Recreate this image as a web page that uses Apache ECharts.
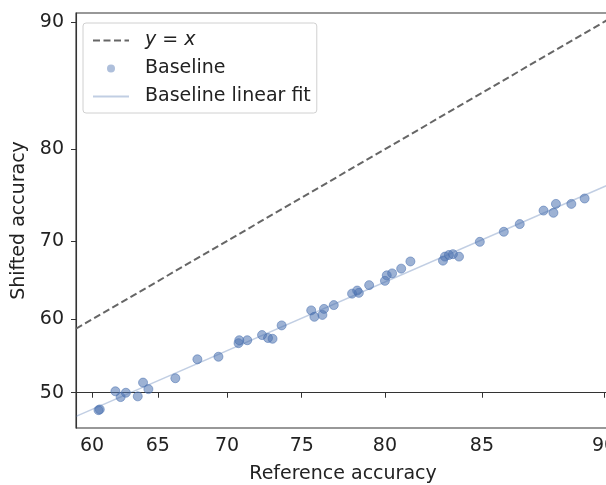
<!DOCTYPE html>
<html>
<head>
<meta charset="utf-8">
<script src="https://cdn.jsdelivr.net/npm/echarts@6/dist/echarts.min.js"></script>
<style>
  html, body { margin: 0; padding: 0; background: #fff; }
  #chart { width: 606px; height: 485px; }
</style>
</head>
<body>
<div id="chart"></div>
<script>
// accuracies in percent
let refAcc = [60.6, 60.5, 61.8, 62.2, 62.6, 63.5, 63.9, 64.3, 66.3, 67.9, 69.4, 70.8, 70.85, 71.4,
    72.4, 72.8, 73.1, 73.7, 75.6, 75.8, 76.3, 76.4, 77.0, 78.1, 78.4, 78.5, 79.1, 80.0, 80.1,
    80.4, 80.9, 81.4, 83.1, 83.2, 83.4, 83.6, 83.9, 84.9, 86.0, 86.7, 87.7, 88.2, 88.1, 88.8, 89.3];
let shiftAcc = [47.7, 47.6, 50.2, 49.4, 50.0, 49.5, 51.4, 50.5, 52.0, 54.6, 54.95, 56.8, 57.2, 57.2,
    57.9, 57.5, 57.4, 59.2, 61.2, 60.35, 60.6, 61.4, 61.9, 63.4, 63.8, 63.5, 64.5, 65.05, 65.75,
    66.0, 66.6, 67.5, 67.6, 68.1, 68.3, 68.4, 68.1, 69.9, 71.1, 72.0, 73.55, 74.3, 73.3, 74.3, 74.9];
let xTicks = [60, 65, 70, 75, 80, 85, 90];
let yTicks = [50, 60, 70, 80, 90];
let xLimits = [58.75, 90.21];
let yLimits = [45.15, 90.53];

// inverse normal cdf (Acklam), axes are probit scaled
function probit(p) {
    const a = [-3.969683028665376e+01, 2.209460984245205e+02, -2.759285104469687e+02, 1.383577518672690e+02, -3.066479806614716e+01, 2.506628277459239e+00];
    const b = [-5.447609879822406e+01, 1.615858368580409e+02, -1.556989798598866e+02, 6.680131188771972e+01, -1.328068155288572e+01];
    const c = [-7.784894002430293e-03, -3.223964580411365e-01, -2.400758277161838e+00, -2.549732539343734e+00, 4.374664141464968e+00, 2.938163982698783e+00];
    const d = [7.784695709041462e-03, 3.224671290700398e-01, 2.445134137142996e+00, 3.754408661907416e+00];
    const plow = 0.02425;
    if (p < plow) {
        let q = Math.sqrt(-2 * Math.log(p));
        return (((((c[0] * q + c[1]) * q + c[2]) * q + c[3]) * q + c[4]) * q + c[5]) / ((((d[0] * q + d[1]) * q + d[2]) * q + d[3]) * q + 1);
    }
    if (p <= 1 - plow) {
        let q = p - 0.5, r = q * q;
        return (((((a[0] * r + a[1]) * r + a[2]) * r + a[3]) * r + a[4]) * r + a[5]) * q / (((((b[0] * r + b[1]) * r + b[2]) * r + b[3]) * r + b[4]) * r + 1);
    }
    let q = Math.sqrt(-2 * Math.log(1 - p));
    return -(((((c[0] * q + c[1]) * q + c[2]) * q + c[3]) * q + c[4]) * q + c[5]) / ((((d[0] * q + d[1]) * q + d[2]) * q + d[3]) * q + 1);
}
let pr = v => probit(v / 100);

let points = refAcc.map((x, i) => [pr(x), pr(shiftAcc[i])]);

// least squares fit in probit space
let n = points.length;
let mx = points.reduce((s, p) => s + p[0], 0) / n;
let my = points.reduce((s, p) => s + p[1], 0) / n;
let sxy = 0, sxx = 0;
points.forEach(p => { sxy += (p[0] - mx) * (p[1] - my); sxx += (p[0] - mx) * (p[0] - mx); });
let slope = sxy / sxx;
let icpt = my - slope * mx;

let x0 = pr(xLimits[0]), x1 = pr(xLimits[1]);
let fitLine = [[x0, icpt + slope * x0], [x1, icpt + slope * x1]];
let diagLine = [[x0, x0], [x1, x1]];

function tickLabel(ticks) {
    return function (v) {
        for (let t of ticks) {
            if (Math.abs(pr(t) - v) < 1e-6) return String(t);
        }
        return '';
    };
}

let font = 'DejaVu Sans';
let axisCol = '#333';
let fs = 19;

let myChart = echarts.init(document.getElementById('chart'));
let option = {
    animation: false,
    textStyle: { fontFamily: font },
    grid: {
        left: 76, top: 13, width: 534, height: 415,
        outerBoundsMode: 'none',
        containLabel: false,
        show: true, borderColor: axisCol, borderWidth: 1.1, backgroundColor: 'transparent'
    },
    legend: {
        left: 83, top: 23,
        orient: 'vertical',
        padding: [8, 6, 7, 9],
        itemWidth: 36, itemHeight: 8, itemGap: 9,
        backgroundColor: 'rgba(255,255,255,0.8)',
        borderColor: '#d0d0d0', borderWidth: 1, borderRadius: 3,
        textStyle: {
            fontFamily: font, fontSize: fs, color: '#222', padding: [0, 0, 0, 11],
            rich: { i: { fontStyle: 'italic', fontFamily: font, fontSize: fs, color: '#222' } }
        },
        formatter: function (name) {
            if (name === 'y = x') return '{i|y} = {i|x}';
            return name;
        },
        data: [
            { name: 'y = x', itemStyle: { opacity: 0 } },
            { name: 'Baseline', itemStyle: { opacity: 0.45, borderWidth: 0 } },
            { name: 'Baseline linear fit', itemStyle: { opacity: 0 } }
        ]
    },
    xAxis: {
        type: 'value',
        min: x0, max: x1,
        name: 'Reference accuracy',
        nameLocation: 'middle', nameGap: 37,
        nameTextStyle: { fontFamily: font, fontSize: fs, color: '#222' },
        axisLine: { show: true, lineStyle: { color: axisCol, width: 1.1 } },
        axisTick: { show: true, length: 5, customValues: xTicks.map(pr), lineStyle: { color: axisCol } },
        axisLabel: { customValues: xTicks.map(pr), formatter: tickLabel(xTicks), margin: 9, fontSize: fs, color: '#222', fontFamily: font },
        splitLine: { show: false }
    },
    yAxis: {
        type: 'value',
        min: pr(yLimits[0]), max: pr(yLimits[1]),
        name: 'Shifted accuracy',
        nameLocation: 'middle', nameGap: 47,
        nameTextStyle: { fontFamily: font, fontSize: fs, color: '#222' },
        axisLine: { show: true, lineStyle: { color: axisCol, width: 1.1 } },
        axisTick: { show: true, length: 5, customValues: yTicks.map(pr), lineStyle: { color: axisCol } },
        axisLabel: { customValues: yTicks.map(pr), formatter: tickLabel(yTicks), margin: 12, fontSize: fs, color: '#222', fontFamily: font },
        splitLine: { show: false }
    },
    series: [
        {
            name: 'y = x',
            type: 'line',
            data: diagLine,
            symbol: 'none',
            lineStyle: { color: '#666', width: 2, type: [7, 3.5] },
            itemStyle: { color: '#666' },
            z: 2
        },
        {
            name: 'Baseline',
            type: 'scatter',
            data: points,
            symbolSize: 9,
            itemStyle: { color: '#4c72b0', borderColor: '#4c72b0', borderWidth: 1, opacity: 0.55 },
            z: 3
        },
        {
            name: 'Baseline linear fit',
            type: 'line',
            data: fitLine,
            symbol: 'none',
            lineStyle: { color: '#4c72b0', width: 1.5, opacity: 0.35 },
            itemStyle: { color: '#4c72b0', opacity: 0.35 },
            z: 4
        }
    ]
};
myChart.setOption(option);
</script>
</body>
</html>
